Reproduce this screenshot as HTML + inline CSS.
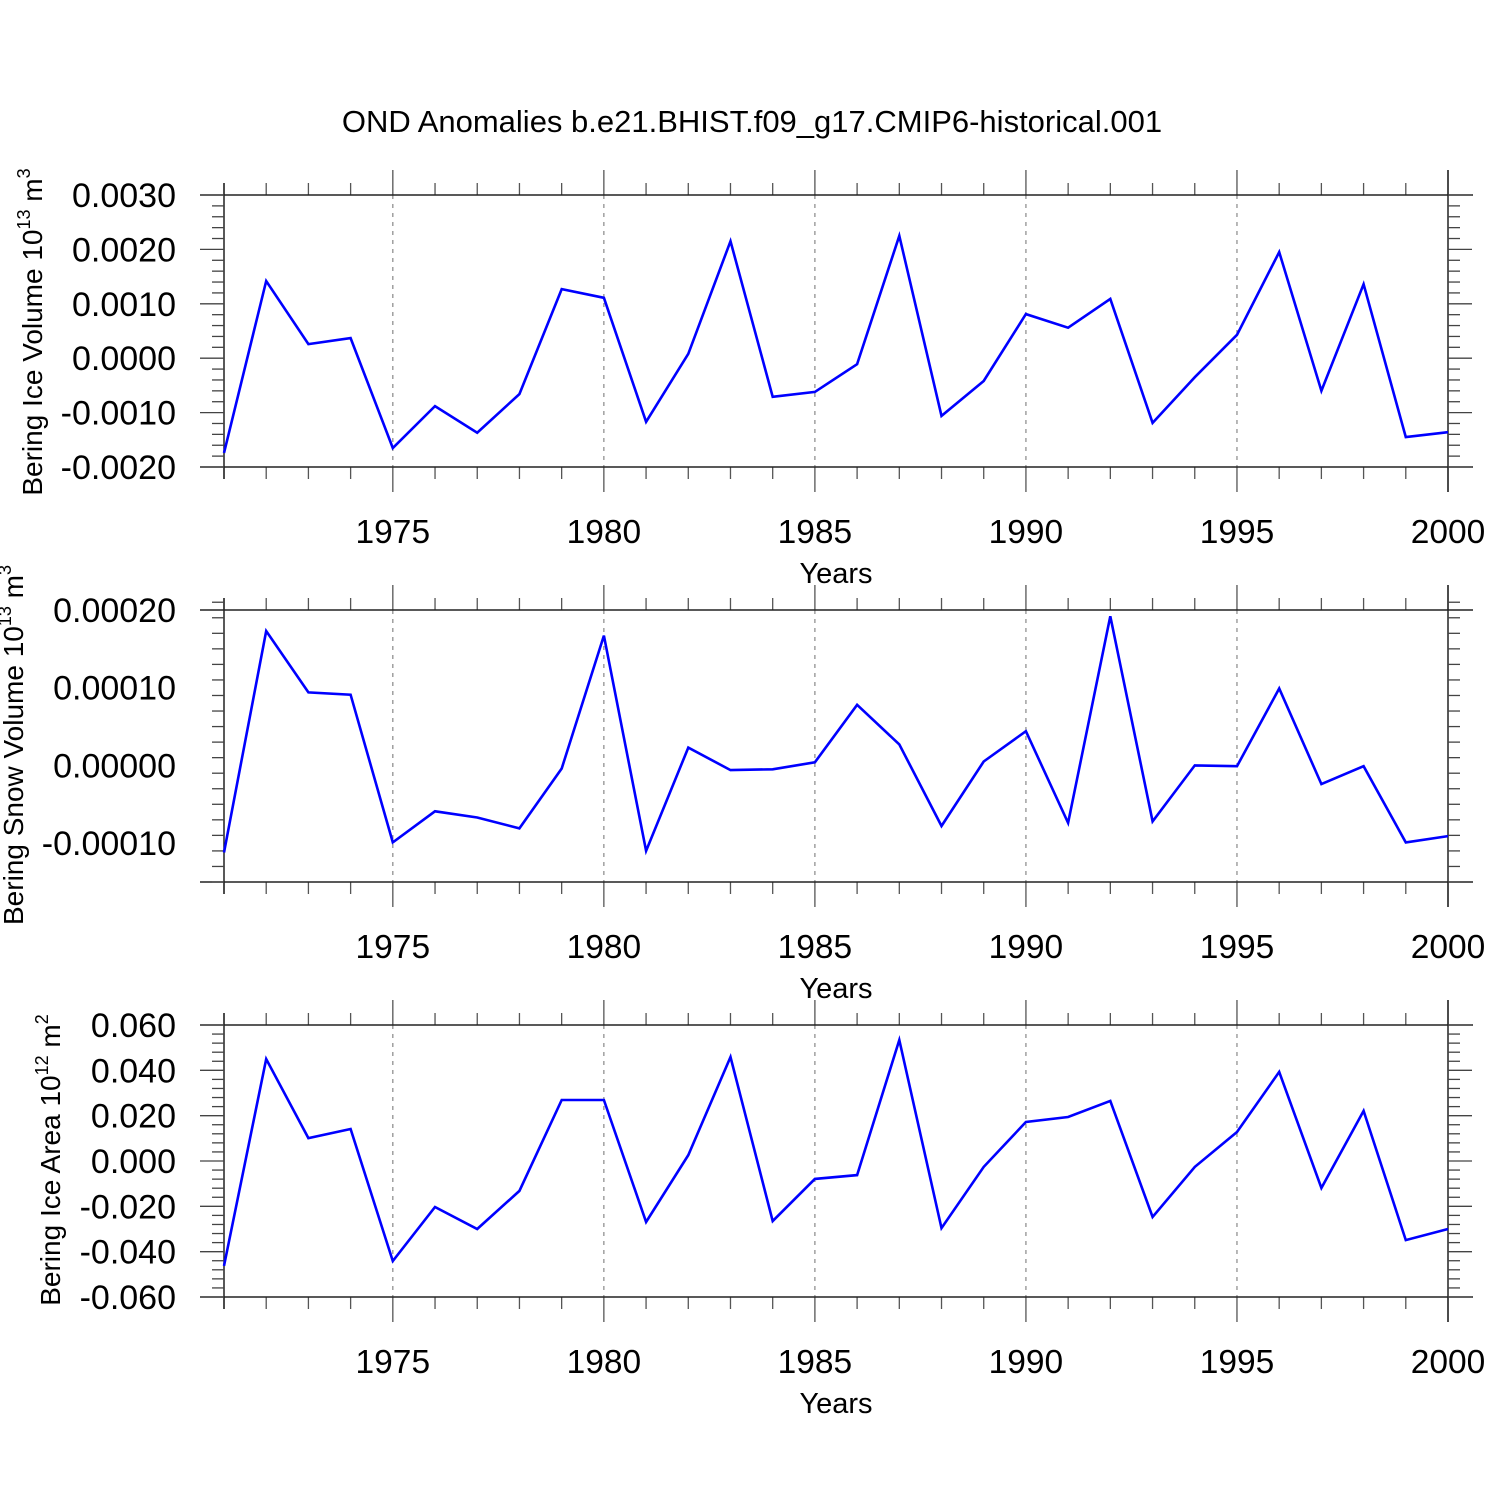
<!DOCTYPE html>
<html><head><meta charset="utf-8"><style>
html,body{margin:0;padding:0;background:#fff}
svg{display:block;font-family:"Liberation Sans",Arial,sans-serif}
</style></head><body>
<svg id="chart" width="1500" height="1500" viewBox="0 0 1500 1500" xmlns="http://www.w3.org/2000/svg">
<rect width="1500" height="1500" fill="#fff"/>
<text x="752" y="132" font-size="31" text-anchor="middle">OND Anomalies b.e21.BHIST.f09_g17.CMIP6-historical.001</text>
</svg>
<script>
const years = [1971,1972,1973,1974,1975,1976,1977,1978,1979,1980,1981,1982,1983,1984,1985,1986,1987,1988,1989,1990,1991,1992,1993,1994,1995,1996,1997,1998,1999,2000];
const xTickLabels = ["1975","1980","1985","1990","1995","2000"];
const iceVolume = [-0.00174,0.00142,0.00026,0.00037,-0.00165,-0.00088,-0.00137,-0.00066,0.00127,0.00111,-0.00117,0.00008,0.00215,-0.00071,-0.00062,-0.00011,0.00225,-0.00106,-0.00042,0.00081,0.00056,0.00109,-0.00119,-0.00035,0.00043,0.00195,-0.0006,0.00136,-0.00145,-0.00136];
const snowVolume = [-0.000112,0.000173,0.000094,0.000091,-0.000099,-0.000059,-0.000067,-0.000081,-0.000004,0.000167,-0.00011,0.000023,-0.000006,-0.000005,0.000004,0.000078,0.000027,-0.000078,0.000005,0.000044,-0.000074,0.000192,-0.000072,0.0,-0.000001,0.000099,-0.000024,-0.000001,-0.000099,-0.000091];
const iceArea = [-0.0463,0.045,0.0101,0.0141,-0.0441,-0.0203,-0.03,-0.0132,0.0269,0.0269,-0.0269,0.0026,0.0459,-0.0265,-0.0079,-0.0062,0.0534,-0.0296,-0.0026,0.0172,0.0194,0.0265,-0.0247,-0.0026,0.0128,0.0393,-0.0119,0.0221,-0.0349,-0.03];
const iceVolTicks = ["0.0030","0.0020","0.0010","0.0000","-0.0010","-0.0020"];
const snowVolTicks = ["0.00020","0.00010","0.00000","-0.00010"];
const iceAreaTicks = ["0.060","0.040","0.020","0.000","-0.020","-0.040","-0.060"];

const NS="http://www.w3.org/2000/svg";
const svg=document.getElementById('chart');
function mk(tag,attrs,parent){const e=document.createElementNS(NS,tag);for(const k in attrs)e.setAttribute(k,attrs[k]);(parent||svg).appendChild(e);return e;}

const X0=224,X1=1448,XMIN=1971,XMAX=2000;
function xs(v){return X0+(v-XMIN)/(XMAX-XMIN)*(X1-X0);}

const panels=[
 {name:'ice-volume',top:195,bot:467,ymin:-0.002,ymax:0.003,major:0.001,minor:0.0002,ticks:iceVolTicks,data:iceVolume,title:['Bering Ice Volume 10','13',' m','3'],tx:42,tc:332},
 {name:'snow-volume',top:610,bot:882,ymin:-0.00015,ymax:0.0002,major:0.0001,minor:0.00002,ticks:snowVolTicks,data:snowVolume,title:['Bering Snow Volume 10','13',' m','3'],tx:23,tc:745},
 {name:'ice-area',top:1025,bot:1297,ymin:-0.06,ymax:0.06,major:0.02,minor:0.004,ticks:iceAreaTicks,data:iceArea,title:['Bering Ice Area 10','12',' m','2'],tx:60,tc:1160}
];

panels.forEach(p=>{
  const g=mk('g',{});
  
  
  const ys=v=>p.bot-(v-p.ymin)/(p.ymax-p.ymin)*(p.bot-p.top);
  for(let yr=1975;yr<2000;yr+=5){
    const l=mk('line',{x1:xs(yr),x2:xs(yr),y1:p.top,y2:p.bot,stroke:'#888','stroke-width':1.2,'stroke-dasharray':'4,5'},g);
    
    
  }
  years.forEach(yr=>{
    const major=yr%5===0;
    const x=xs(yr);
    const len=major?25:12;
    mk('line',{x1:x,x2:x,y1:p.top-len,y2:p.top,stroke:'#555','stroke-width':1.3},g);
    mk('line',{x1:x,x2:x,y1:p.bot,y2:p.bot+len,stroke:'#555','stroke-width':1.3},g);
  });
  mk('line',{x1:200,x2:1473,y1:p.top,y2:p.top,stroke:'#222','stroke-width':1.5},g);
  mk('line',{x1:200,x2:1473,y1:p.bot,y2:p.bot,stroke:'#222','stroke-width':1.5},g);
  mk('line',{x1:X0,x2:X0,y1:p.top-12,y2:p.bot+12,stroke:'#222','stroke-width':1.5},g);
  mk('line',{x1:X1,x2:X1,y1:p.top-25,y2:p.bot+25,stroke:'#222','stroke-width':1.5},g);
  const nMin=Math.round((p.ymax-p.ymin)/p.minor);
  for(let i=0;i<=nMin;i++){
    const v=p.ymin+i*p.minor;const y=ys(v);
    const isMaj=Math.abs(Math.round((p.ymax-v)/p.major)*p.major-(p.ymax-v))<p.minor/10;
    const len=isMaj?24:12;
    mk('line',{x1:X0-len,x2:X0,y1:y,y2:y,stroke:'#444','stroke-width':1.3},g);
    mk('line',{x1:X1,x2:X1+len,y1:y,y2:y,stroke:'#444','stroke-width':1.3},g);
  }
  p.ticks.forEach((t,i)=>{
    const y=ys(p.ymax-i*p.major);
    const tx=mk('text',{x:176,y:y+12,'font-size':34,'text-anchor':'end'},g);
    
    
    tx.textContent=t;
  });
  xTickLabels.forEach(t=>{
    const tx=mk('text',{x:xs(+t),y:p.bot+76,'font-size':33.5,'text-anchor':'middle'},g);
    
    
    tx.textContent=t;
  });
  const xt=mk('text',{x:836,y:p.bot+116,'font-size':29,'text-anchor':'middle'},g);
  
  
  xt.textContent='Years';
  const yt=mk('text',{x:0,y:0,'font-size':28,'text-anchor':'middle',transform:`translate(${p.tx},${p.tc}) rotate(-90)`},g);
  
  
  const parts=p.title;
  const s1=mk('tspan',{},yt);s1.textContent=parts[0];
  const s2=mk('tspan',{dy:-12,'font-size':18},yt);s2.textContent=parts[1];
  const s3=mk('tspan',{dy:12},yt);s3.textContent=parts[2];
  const s4=mk('tspan',{dy:-12,'font-size':18},yt);s4.textContent=parts[3];
  const pts=p.data.map((v,i)=>xs(years[i]).toFixed(1)+','+ys(v).toFixed(1)).join(' ');
  const pl=mk('polyline',{points:pts,fill:'none',stroke:'#0000ff','stroke-width':2.6,'stroke-linejoin':'miter'},g);
  
  
});
</script>
</body></html>
